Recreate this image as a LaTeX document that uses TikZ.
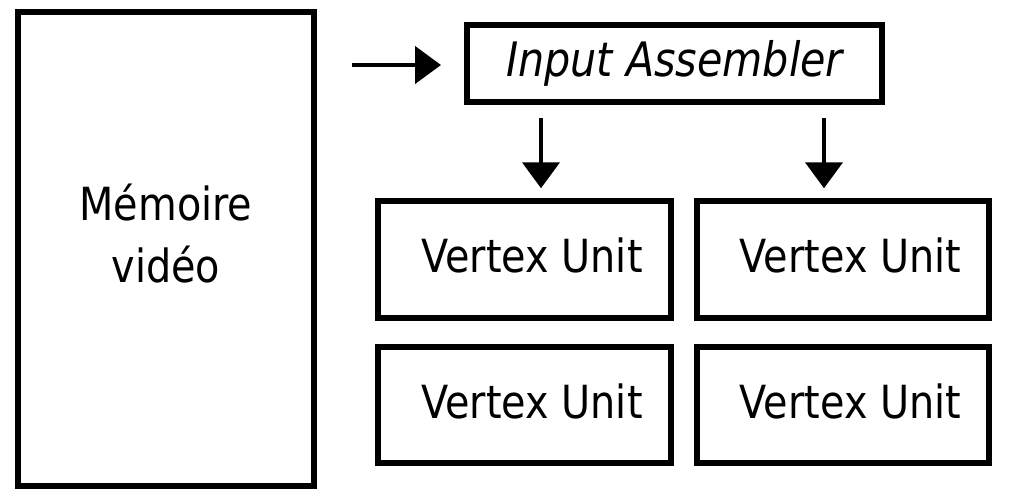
\documentclass[tikz,border=0pt]{standalone}
\usepackage{fontspec}
\setmainfont{DejaVu Sans}[FakeStretch=0.87]
\usetikzlibrary{arrows.meta,positioning,calc}
\tikzstyle{unit} = [draw, shape=rectangle, line width=3.4pt, minimum width=5.85cm, minimum height=2.33cm, text depth=0.16cm, font=\fontsize{26}{34}\selectfont]
\tikzstyle{memory} = [draw, shape=rectangle, line width=3.4pt, minimum width=5.93cm, minimum height=9.49cm]
\tikzstyle{Arrow} = [-{Triangle[length=0.52cm,width=0.74cm]}, line width=2.5pt]

\begin{document}
\begin{tikzpicture}
            \useasboundingbox (0,0) rectangle (20.48,-10.04);
            %%%%% Video memory %%%%%
            \node (M) [memory] at (3.32,-4.98) {};
            \node [align=center, font=\fontsize{26}{35.3}\selectfont] at ($(M) + (0,0.3)$) {Mémoire\\vidéo};
            %%%%% Input assembler %%%%%
            \node (A) [draw, line width=3.4pt, minimum width=8.3cm, minimum height=1.54cm, font=\fontsize{27}{34}\selectfont\itshape] at (13.49,-1.27) {Input Assembler\hspace{0.25cm}};
            \coordinate (in) at (7.04,-1.3);
            \draw [Arrow, shorten >=0.46cm] (in) -- (in -| A.west);
            %%%%% Vertex units %%%%%
            \node (V1) [unit] at (10.49,-5.19) {\hspace{0.3cm}Vertex Unit};
            \node (V2) [unit] at (16.86,-5.19) {\hspace{0.3cm}Vertex Unit};
            \node (V3) [unit, below=0.46cm of V1] {\hspace{0.3cm}Vertex Unit};
            \node (V4) [unit, below=0.46cm of V2] {\hspace{0.3cm}Vertex Unit};
            %%%%% Edges %%%%%
            \draw [Arrow, shorten <=0.26cm, shorten >=0.2cm] ([xshift=0.33cm]V1.north |- A.south) -- ([xshift=0.33cm]V1.north);
            \draw [Arrow, shorten <=0.26cm, shorten >=0.2cm] ([xshift=-0.38cm]V2.north |- A.south) -- ([xshift=-0.38cm]V2.north);
        \end{tikzpicture}
\end{document}
